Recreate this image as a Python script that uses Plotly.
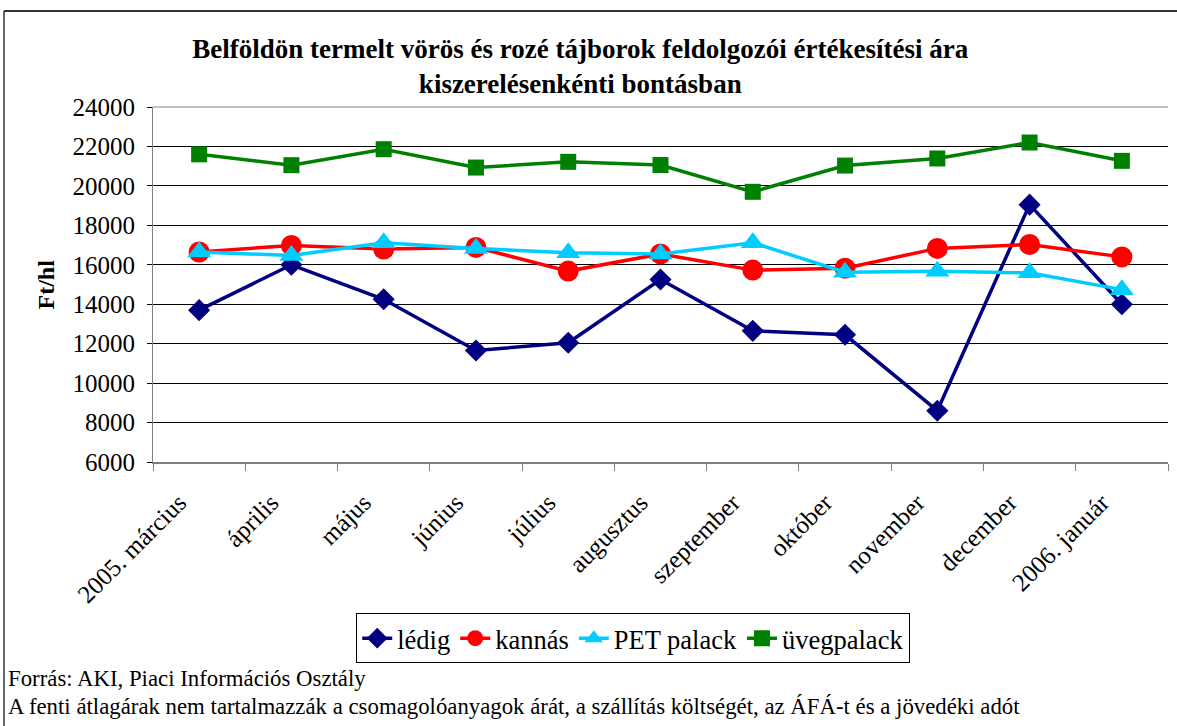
import plotly.graph_objects as go

# categories (months) and series values, Ft/hl
months = ["2005. március", "április", "május", "június", "július", "augusztus",
          "szeptember", "október", "november", "december", "2006. január"]
ledig = [13700, 16000, 14250, 11650, 12050, 15250, 12650, 12450, 8600, 19050, 14000]
kannas = [16650, 16980, 16800, 16880, 15680, 16550, 15730, 15830, 16830, 17030, 16400]
pet_palack = [16650, 16470, 17120, 16830, 16610, 16550, 17120, 15620, 15670, 15590, 14740]
uvegpalack = [21600, 21050, 21860, 20930, 21220, 21060, 19700, 21030, 21390, 22200, 21270]

y_ticks = list(range(6000, 24001, 2000))

SERIF = "Liberation Serif"

series = [
    ("lédig", ledig, "#000080", "diamond", 17),
    ("kannás", kannas, "#FF0000", "circle", 21),
    ("PET palack", pet_palack, "#00CCFF", "triangle-up", 21),
    ("üvegpalack", uvegpalack, "#008000", "square", 16),
]

fig = go.Figure()
for name, vals, col, sym, sz in series:
    fig.add_trace(go.Scatter(x=months, y=vals, name=name, mode="lines+markers",
                             line=dict(color=col, width=3.5),
                             marker=dict(symbol=sym, size=sz, color=col, line=dict(width=0))))

fig.update_layout(
    width=1177, height=726,
    margin=dict(l=153, r=9, t=107, b=264),
    plot_bgcolor="white", paper_bgcolor="white",
    font=dict(family=SERIF, size=24, color="black"),
    title=dict(text="<b>Belföldön termelt vörös és rozé tájborok feldolgozói értékesítési ára<br>kiszerelésenkénti bontásban</b>",
               x=0.493, xanchor="center", y=0.92, yanchor="top", yref="container",
               font=dict(size=27, family=SERIF)),
    legend=dict(orientation="h", x=0.538, xanchor="center", xref="container",
                y=0.155, yanchor="top", yref="container",
                bordercolor="black", borderwidth=1, bgcolor="white",
                font=dict(size=26.5, family=SERIF), itemwidth=30, tracegroupgap=0),
    showlegend=True,
    hovermode=False,
)

fig.update_xaxes(type="category", range=[-0.5, len(months) - 0.5], tickangle=-45, showgrid=False,
                 showline=True, linecolor="#808080", linewidth=2, automargin=False,
                 ticks="outside", ticklen=7, tickcolor="#808080", tickson="boundaries",
                 ticklabelshift=-20, ticklabelstandoff=14,
                 tickfont=dict(size=25, family=SERIF))
fig.update_yaxes(range=[6000, 24000], tickvals=y_ticks, tickformat="d", showgrid=True,
                 gridcolor="black", gridwidth=1, zeroline=False, automargin=False,
                 showline=True, linecolor="#808080", linewidth=1,
                 ticks="outside", ticklen=5, tickcolor="black", ticklabelstandoff=7,
                 tickfont=dict(size=25, family=SERIF))

# light top border of plot area
fig.add_shape(type="line", xref="paper", yref="paper", x0=0, x1=1, y0=1, y1=1,
              line=dict(color="#C0C0C0", width=2))

# outer chart frame (top and left edges visible)
fig.add_shape(type="line", xref="paper", yref="paper", x0=-0.1468, x1=1.05, y0=1.2704, y1=1.2704,
              line=dict(color="#333333", width=2))
fig.add_shape(type="line", xref="paper", yref="paper", x0=-0.1468, x1=-0.1468, y0=1.2704, y1=-0.8,
              line=dict(color="#333333", width=1.5))

# y axis title
fig.add_annotation(text="<b>Ft/hl</b>", xref="paper", yref="paper", x=-0.1064, y=0.5,
                   xanchor="center", yanchor="middle",
                   textangle=-90, showarrow=False, font=dict(size=24, family=SERIF))

# source notes
fig.add_annotation(text="Forrás: AKI, Piaci Információs Osztály", xref="paper", yref="paper",
                   x=-0.1448, y=-0.611, xanchor="left", yanchor="middle", showarrow=False,
                   font=dict(size=22.8, family=SERIF))
fig.add_annotation(text="A fenti átlagárak nem tartalmazzák a csomagolóanyagok árát, a szállítás költségét, az ÁFÁ-t és a jövedéki adót",
                   xref="paper", yref="paper", x=-0.1448, y=-0.690, xanchor="left", yanchor="middle",
                   showarrow=False, font=dict(size=22.8, family=SERIF))

# drop the default page margin so the figure sits at the window's top-left corner
fig.write_html("out.html", config={"displayModeBar": False},
               post_script="document.body.style.margin='0';")
